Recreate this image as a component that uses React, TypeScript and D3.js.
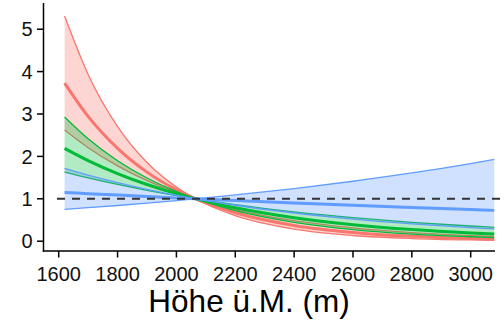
import * as d3 from "d3";

const elevation = [1620, 1700, 1800, 1900, 2000, 2100, 2200, 2400, 2600, 2800, 3000, 3080];

// red group: fitted line and the two band edges
const redMid = [3.73, 2.944, 2.19, 1.629, 1.212, 0.902, 0.671, 0.371, 0.205, 0.114, 0.063, 0.05];
const redHi = [5.31, 3.933, 2.703, 1.857, 1.276, 0.877, 0.603, 0.285, 0.134, 0.063, 0.03, 0.022];
const redLo = [2.62, 2.204, 1.775, 1.429, 1.151, 0.927, 0.747, 0.484, 0.314, 0.204, 0.132, 0.111];

// green group
const greenMid = [2.19, 1.902, 1.595, 1.337, 1.121, 0.94, 0.788, 0.554, 0.39, 0.274, 0.193, 0.167];
const greenHi = [2.93, 2.415, 1.897, 1.49, 1.17, 0.919, 0.722, 0.445, 0.275, 0.169, 0.105, 0.086];
const greenLo = [1.63, 1.493, 1.338, 1.199, 1.074, 0.962, 0.862, 0.692, 0.556, 0.446, 0.358, 0.328];

// blue group
const blueMid = [1.15, 1.121, 1.087, 1.053, 1.021, 0.989, 0.958, 0.9, 0.845, 0.794, 0.746, 0.727];
const blueHi = [1.72, 1.56, 1.381, 1.223, 1.082, 0.958, 0.848, 0.665, 0.521, 0.408, 0.32, 0.29];
const blueLo = [0.75, 0.79, 0.842, 0.899, 0.959, 1.023, 1.091, 1.242, 1.414, 1.609, 1.831, 1.928];

const xTicks = [1600, 1800, 2000, 2200, 2400, 2600, 2800, 3000];
const yTicks = [0, 1, 2, 3, 4, 5];
const refLevel = 1;
const xTitle = "Höhe ü.M. (m)";

const groups = [
  { color: "#F8766D", mid: redMid, hi: redHi, lo: redLo },
  { color: "#00BA38", mid: greenMid, hi: greenHi, lo: greenLo },
  { color: "#619CFF", mid: blueMid, hi: blueHi, lo: blueLo },
];

const width = 504;
const height = 322;
const font = "'Liberation Sans', Arial, sans-serif";

export default function App() {
  const x = d3.scaleLinear().domain([1600, 3000]).range([58.7, 470.7]);
  const y = d3.scaleLinear().domain([0, 5]).range([241.2, 29.2]);

  const axisLeft = 43.5;
  const axisBottom = 251;

  const line = (vals: number[]) =>
    d3
      .line<number>()
      .x((_, i) => x(elevation[i]))
      .y((d) => y(d))
      .curve(d3.curveMonotoneX)(vals) || "";

  const band = (lo: number[], hi: number[]) =>
    d3
      .area<number>()
      .x((_, i) => x(elevation[i]))
      .y0((_, i) => y(lo[i]))
      .y1((_, i) => y(hi[i]))
      .curve(d3.curveMonotoneX)(lo) || "";

  return (
    <svg
      width={width}
      height={height}
      style={{ position: "absolute", left: 0, top: 0, background: "#fff" }}
    >
      {groups.map((g, k) => (
        <g key={k}>
          <path d={band(g.lo, g.hi)} fill={g.color} fillOpacity={0.3} stroke="none" />
          <path d={line(g.hi)} fill="none" stroke={g.color} strokeWidth={1.3} />
          <path d={line(g.lo)} fill="none" stroke={g.color} strokeWidth={1.3} />
          <path d={line(g.mid)} fill="none" stroke={g.color} strokeWidth={3} />
        </g>
      ))}

      <line
        x1={50}
        x2={width}
        y1={y(refLevel)}
        y2={y(refLevel)}
        stroke="#333"
        strokeWidth={2}
        strokeDasharray="8,7"
        strokeDashoffset={8}
      />

      {/* axes */}
      <line x1={axisLeft} x2={axisLeft} y1={3} y2={axisBottom + 0.75} stroke="#000" strokeWidth={1.5} />
      <line x1={axisLeft - 0.75} x2={495} y1={axisBottom} y2={axisBottom} stroke="#000" strokeWidth={1.5} />

      {yTicks.map((t) => (
        <g key={t}>
          <line x1={axisLeft - 6.5} x2={axisLeft} y1={y(t)} y2={y(t)} stroke="#000" strokeWidth={1.5} />
          <text
            x={32.5}
            y={y(t)}
            dy="0.36em"
            textAnchor="end"
            fontFamily={font}
            fontSize={20}
            fill="#111"
          >
            {t}
          </text>
        </g>
      ))}

      {xTicks.map((t) => (
        <g key={t}>
          <line x1={x(t)} x2={x(t)} y1={axisBottom} y2={axisBottom + 6.5} stroke="#000" strokeWidth={1.5} />
          <text
            x={x(t)}
            y={280.7}
            textAnchor="middle"
            fontFamily={font}
            fontSize={20}
            fill="#111"
          >
            {t}
          </text>
        </g>
      ))}

      <text x={249} y={311.5} textAnchor="middle" fontFamily={font} fontSize={31.5} fill="#000">
        {xTitle}
      </text>
    </svg>
  );
}
